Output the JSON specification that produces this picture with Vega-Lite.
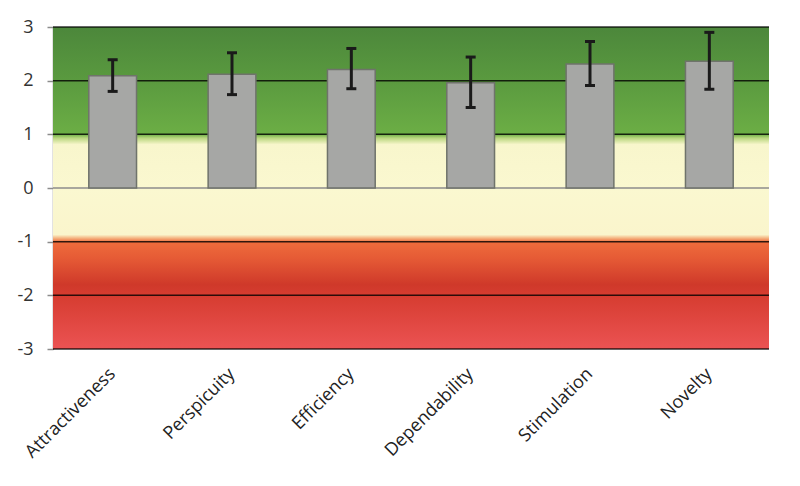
{
  "$schema": "https://vega.github.io/schema/vega-lite/v6.json",
  "width": 716,
  "height": 322,
  "autosize": {"type": "none"},
  "padding": {"left": 53, "top": 27, "right": 31, "bottom": 137},
  "background": "#ffffff",
  "config": {
    "view": {"stroke": null},
    "font": "Open Sans"
  },
  "datasets": {
    "scales": [
      {"name": "Attractiveness", "mean": 2.09, "lo": 1.8, "hi": 2.39},
      {"name": "Perspicuity", "mean": 2.12, "lo": 1.74, "hi": 2.52},
      {"name": "Efficiency", "mean": 2.21, "lo": 1.85, "hi": 2.6},
      {"name": "Dependability", "mean": 1.96, "lo": 1.5, "hi": 2.44},
      {"name": "Stimulation", "mean": 2.31, "lo": 1.91, "hi": 2.73},
      {"name": "Novelty", "mean": 2.36, "lo": 1.84, "hi": 2.9}
    ],
    "band": [{"top": 3, "bottom": -3}],
    "grid": [{"v": 3}, {"v": 2}, {"v": 1}, {"v": -1}, {"v": -2}, {"v": -3}],
    "zero": [{"v": 0}]
  },
  "layer": [
    {
      "data": {"name": "band"},
      "mark": {
        "type": "rect",
        "fill": {
          "gradient": "linear",
          "x1": 0, "y1": 0, "x2": 0, "y2": 1,
          "stops": [
            {"offset": 0, "color": "#4c873b"},
            {"offset": 0.1667, "color": "#5a9a3f"},
            {"offset": 0.3333, "color": "#6cae45"},
            {"offset": 0.345, "color": "#b9d67f"},
            {"offset": 0.365, "color": "#f8f6cc"},
            {"offset": 0.5, "color": "#faf8d0"},
            {"offset": 0.645, "color": "#faf5cc"},
            {"offset": 0.655, "color": "#f5b885"},
            {"offset": 0.667, "color": "#ef6c3c"},
            {"offset": 0.72, "color": "#e55a35"},
            {"offset": 0.8, "color": "#cf392a"},
            {"offset": 0.833, "color": "#d63c30"},
            {"offset": 1, "color": "#eb5353"}
          ]
        }
      },
      "encoding": {
        "y": {
          "field": "top", "type": "quantitative",
          "scale": {"domain": [-3, 3], "nice": false},
          "axis": {
            "values": [-3, -2, -1, 0, 1, 2, 3],
            "labelExpr": "datum.value < 0 ? '-' + abs(datum.value) : '' + datum.value",
            "grid": false,
            "domain": true,
            "domainColor": "#8c8c8c",
            "domainWidth": 1.5,
            "ticks": true,
            "tickColor": "#8c8c8c",
            "tickSize": 6,
            "tickWidth": 1.5,
            "labelFontSize": 18,
            "labelColor": "#333333",
            "labelPadding": 14,
            "title": null
          }
        },
        "y2": {"field": "bottom"}
      }
    },
    {
      "data": {"name": "grid"},
      "mark": {"type": "rule", "color": "#000000", "opacity": 0.8, "strokeWidth": 1.5},
      "encoding": {"y": {"field": "v", "type": "quantitative"}}
    },
    {
      "data": {"name": "zero"},
      "mark": {"type": "rule", "color": "#8c8c8c", "strokeWidth": 1.5},
      "encoding": {"y": {"field": "v", "type": "quantitative"}}
    },
    {
      "data": {"name": "scales"},
      "mark": {"type": "bar", "fill": "#a6a7a5", "stroke": "#6f736b", "strokeWidth": 1.5},
      "encoding": {
        "x": {
          "field": "name", "type": "nominal", "sort": null,
          "scale": {"paddingInner": 0.6, "paddingOuter": 0.3},
          "axis": {
            "title": null,
            "domain": false,
            "ticks": false,
            "labelAngle": -45,
            "labelAlign": "right",
            "labelBaseline": "middle",
            "labelFontSize": 18,
            "labelColor": "#222222",
            "labelPadding": 22
          }
        },
        "y": {"field": "mean", "type": "quantitative"}
      }
    },
    {
      "data": {"name": "scales"},
      "mark": {"type": "rule", "color": "#1a1a1a", "strokeWidth": 3},
      "encoding": {
        "x": {"field": "name", "type": "nominal", "sort": null},
        "y": {"field": "lo", "type": "quantitative"},
        "y2": {"field": "hi"}
      }
    },
    {
      "data": {"name": "scales"},
      "mark": {"type": "tick", "color": "#1a1a1a", "size": 10, "thickness": 3, "opacity": 1},
      "encoding": {
        "x": {"field": "name", "type": "nominal", "sort": null},
        "y": {"field": "lo", "type": "quantitative"}
      }
    },
    {
      "data": {"name": "scales"},
      "mark": {"type": "tick", "color": "#1a1a1a", "size": 10, "thickness": 3, "opacity": 1},
      "encoding": {
        "x": {"field": "name", "type": "nominal", "sort": null},
        "y": {"field": "hi", "type": "quantitative"}
      }
    }
  ]
}
